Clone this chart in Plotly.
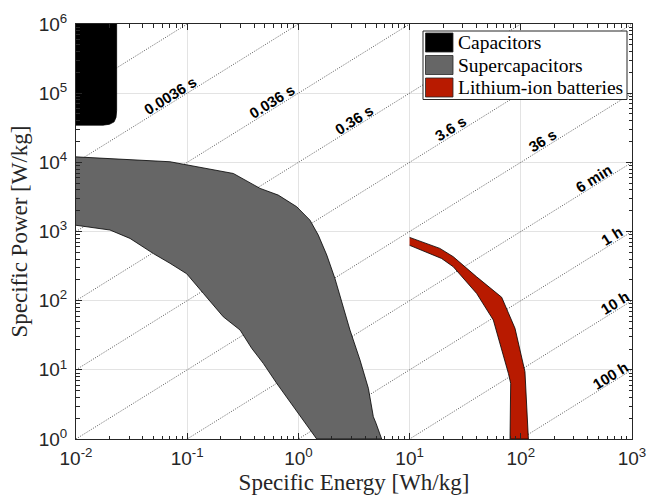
import math
import plotly.graph_objects as go

# ---------------- data ----------------
# Capacitors region (Specific Energy Wh/kg, Specific Power W/kg)
cap_E = [0.01, 0.0232, 0.0232, 0.0229, 0.0220, 0.0200, 0.0175, 0.01]
cap_P = [1e6, 1e6, 56000, 44700, 38500, 35500, 34500, 34500]

# Supercapacitors: upper boundary and lower boundary
sc_upper_E = [0.01, 0.070, 0.260, 0.452, 0.659, 0.966, 1.27, 1.51, 1.80, 2.13, 2.91, 3.58, 4.26, 4.72, 4.99, 5.61]
sc_upper_P = [12000, 10200, 6900, 4200, 3360, 2280, 1460, 887, 456, 210, 37.6, 13.9, 5.4, 2.10, 1.69, 1.0]
sc_lower_E = [0.01, 0.0202, 0.0306, 0.0497, 0.070, 0.0989, 0.140, 0.211, 0.299, 0.380, 0.483, 0.638, 0.90, 1.46]
sc_lower_P = [1230, 1050, 794, 479, 347, 245, 127, 58.5, 37.6, 20.5, 12.4, 6.38, 2.93, 1.0]

# Lithium-ion batteries: upper/right boundary and lower/left boundary
li_upper_E = [10, 18.7, 24.7, 40.1, 67.3, 88.7, 109, 117]
li_upper_P = [822, 570, 432, 221, 112, 39.8, 9.4, 1.0]
li_lower_E = [10, 19.4, 24.7, 40.1, 56.6, 77.3, 81.1, 80]
li_lower_P = [631, 407, 309, 127, 52.5, 8.9, 6.4, 1.0]

# Constant discharge-time lines (hours); P = E / t
line_t_hours = [1e-8, 1e-7, 1e-6, 1e-5, 1e-4, 1e-3, 1e-2, 0.1, 1, 10, 100]
line_E_span = [0.01, 1000]

# Labels of time lines
label_text = ["0.0036 s", "0.036 s", "0.36 s", "3.6 s", "36 s", "6 min", "1 h", "10 h", "100 h"]
label_t_hours = [1e-6, 1e-5, 1e-4, 1e-3, 1e-2, 0.1, 1, 10, 100]
label_E = [0.076, 0.62, 3.44, 25, 169, 484, 718, 764, 689]

# Legend
legend_names = ["Capacitors", "Supercapacitors", "Lithium-ion batteries"]
legend_colors = ["#000000", "#666666", "#B81A00"]

x_tickvals = [0.01, 0.1, 1, 10, 100, 1000]
x_ticktext = ["10<sup>-2</sup>", "10<sup>-1</sup>", "10<sup>0</sup>", "10<sup>1</sup>", "10<sup>2</sup>", "10<sup>3</sup>"]
y_tickvals = [1, 10, 100, 1e3, 1e4, 1e5, 1e6]
y_ticktext = ["10<sup>0</sup>", "10<sup>1</sup>", "10<sup>2</sup>", "10<sup>3</sup>", "10<sup>4</sup>", "10<sup>5</sup>", "10<sup>6</sup>"]

# ---------------- figure ----------------
W, H = 650, 501
ML, MR, MT, MB = 76, 18, 24, 62
SERIF = "Liberation Serif, Times New Roman, serif"
SANS = "Liberation Sans, Arial, sans-serif"
fig = go.Figure()

# time lines (under the fills)
for t in line_t_hours:
    fig.add_trace(go.Scatter(
        x=line_E_span, y=[e / t for e in line_E_span], mode="lines",
        line=dict(color="#111111", width=0.7, dash="1px,1.5px"),
        hoverinfo="skip", showlegend=False))

fig.add_trace(go.Scatter(x=cap_E, y=cap_P, mode="lines", fill="toself",
                         fillcolor=legend_colors[0], line=dict(color="#000000", width=0.8),
                         name=legend_names[0], showlegend=False))
fig.add_trace(go.Scatter(x=sc_upper_E + sc_lower_E[::-1], y=sc_upper_P + sc_lower_P[::-1],
                         mode="lines", fill="toself", fillcolor=legend_colors[1],
                         line=dict(color="#000000", width=0.8),
                         name=legend_names[1], showlegend=False))
fig.add_trace(go.Scatter(x=li_upper_E + li_lower_E[::-1], y=li_upper_P + li_lower_P[::-1],
                         mode="lines", fill="toself", fillcolor=legend_colors[2],
                         line=dict(color="#000000", width=0.8),
                         name=legend_names[2], showlegend=False))

# rotated labels on lines
pw, ph = W - ML - MR, H - MT - MB
theta = math.degrees(math.atan((ph / 6) / (pw / 5)))
d = 7
for txt, t, e in zip(label_text, label_t_hours, label_E):
    fig.add_annotation(
        x=math.log10(e), y=math.log10(e / t), xref="x", yref="y",
        text="<b>%s</b>" % txt, showarrow=False, textangle=-theta,
        xanchor="center", yanchor="middle",
        xshift=-d * math.sin(math.radians(theta)), yshift=d * math.cos(math.radians(theta)),
        font=dict(family=SANS, size=15, color="#000000"))

# manual legend (paper coordinates from pixel layout)
def px(xp):
    return (xp - ML) / pw

def py(yp):
    return (H - MB - yp) / ph

fig.add_shape(type="rect", xref="paper", yref="paper",
              x0=px(423), x1=px(627), y0=py(99.5), y1=py(31),
              line=dict(color="#262626", width=1), fillcolor="white", layer="above")
row_tops = [33, 55.5, 78]
for name, col, top in zip(legend_names, legend_colors, row_tops):
    fig.add_shape(type="rect", xref="paper", yref="paper",
                  x0=px(425.5), x1=px(453), y0=py(top + 19), y1=py(top),
                  line=dict(color="#262626", width=0.8), fillcolor=col, layer="above")
    fig.add_annotation(x=px(456), y=py(top + 9.5), xref="paper", yref="paper",
                       text=name, showarrow=False, xanchor="left", yanchor="middle",
                       font=dict(family=SERIF, size=19.5, color="#000000"))

axis_common = dict(
    type="log", showline=True, linecolor="#262626", linewidth=1, mirror="allticks",
    ticks="inside", ticklen=6, tickcolor="#262626", automargin=False,
    showgrid=True, gridcolor="#e3e3e3", gridwidth=1, zeroline=False,
    tickfont=dict(family=SANS, size=19, color="#262626"),
    minor=dict(ticks="inside", ticklen=3.5, tickcolor="#262626", dtick="D1", showgrid=False),
)

fig.update_layout(
    width=W, height=H, margin=dict(l=ML, r=MR, t=MT, b=MB),
    plot_bgcolor="white", paper_bgcolor="white", showlegend=False,
    xaxis=dict(axis_common, range=[-2, 3], tickvals=x_tickvals, ticktext=x_ticktext,
               ticklabelstandoff=2,
               title=dict(text="Specific Energy [Wh/kg]", standoff=6,
                          font=dict(family=SERIF, size=23, color="#262626"))),
    yaxis=dict(axis_common, range=[0, 6], tickvals=y_tickvals, ticktext=y_ticktext,
               ticklabelstandoff=4,
               title=dict(text="Specific Power [W/kg]", standoff=4,
                          font=dict(family=SERIF, size=23, color="#262626"))),
)

fig.write_html("out.html", config={"displayModeBar": False},
               post_script="document.body.style.margin='0';document.body.style.overflow='hidden';")
